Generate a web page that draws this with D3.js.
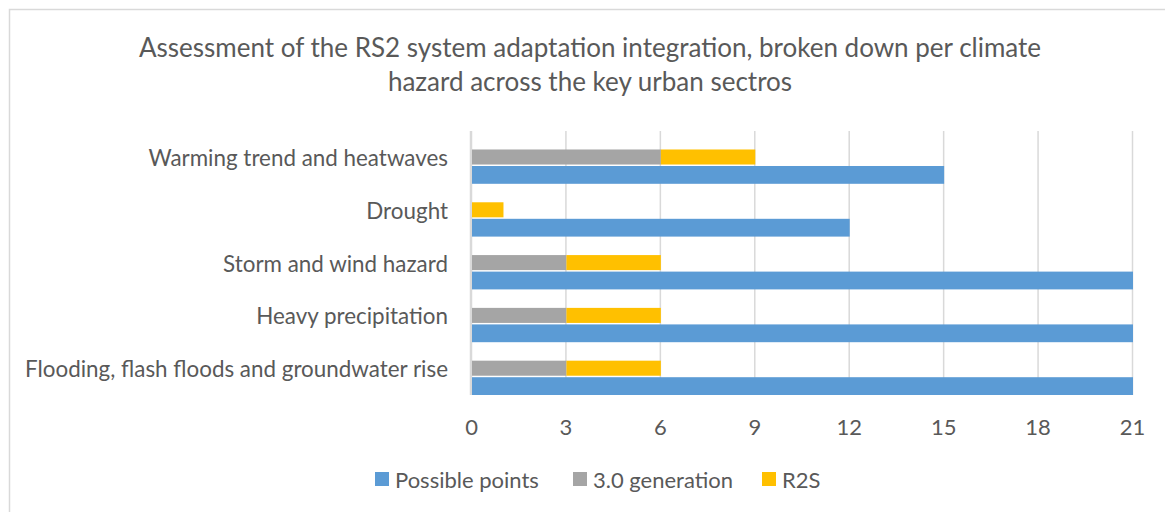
<!DOCTYPE html>
<html>
<head>
<meta charset="utf-8">
<script src="https://cdn.jsdelivr.net/npm/d3@7"></script>
<style>
  html, body { margin: 0; padding: 0; background: #fff; }
  svg { display: block; }
  text { font-family: Lato, "Open Sans", sans-serif; fill: #595959; }
</style>
</head>
<body>
<svg id="chart" width="1165" height="512"></svg>
<script>
// Climate hazards, listed top to bottom
const hazards = [
  "Warming trend and heatwaves",
  "Drought",
  "Storm and wind hazard",
  "Heavy precipitation",
  "Flooding, flash floods and groundwater rise"
];
// Series values per hazard
const possiblePoints = [15, 12, 21, 21, 21];
const generation30   = [6, 0, 3, 3, 3];
const r2s            = [3, 1, 3, 3, 3];
const xTicks = [0, 3, 6, 9, 12, 15, 18, 21];
const seriesNames = ["Possible points", "3.0 generation", "R2S"];
const titleLines = [
  "Assessment of the RS2 system adaptation integration, broken down per climate",
  "hazard across the key urban sectros"
];

const colors = { possible: "#5b9bd5", gen: "#a5a5a5", r2s: "#ffc000" };

const svg = d3.select("#chart");
const W = 1165, H = 512;

// chart frame
svg.append("rect")
  .attr("x", 9.5).attr("y", 9.5)
  .attr("width", W + 20).attr("height", H + 20)
  .attr("fill", "#fff").attr("stroke", "#d9d9d9").attr("stroke-width", 1.5);

const plot = { left: 471, right: 1132, top: 131, bottom: 395 };

const x = d3.scaleLinear().domain([0, 21]).range([plot.left, plot.right]);
const y = d3.scaleBand().domain(hazards).range([plot.top, plot.bottom]).paddingInner(0).paddingOuter(0);
const bw = y.bandwidth();

// title
const title = svg.append("text")
  .attr("text-anchor", "middle")
  .style("font-size", "26px");
titleLines.forEach((t, i) => {
  title.append("tspan").attr("x", 590).attr("y", 57 + i * 34).text(t);
});

// vertical gridlines
const grid = svg.append("g");
grid.selectAll("line").data(xTicks.slice(1)).join("line")
  .attr("x1", d => x(d) + 0.5).attr("x2", d => x(d) + 0.5)
  .attr("y1", plot.top).attr("y2", plot.bottom)
  .attr("stroke", "#d9d9d9").attr("stroke-width", 1.5);

// category axis line
svg.append("line")
  .attr("x1", x(0)).attr("x2", x(0))
  .attr("y1", plot.top).attr("y2", plot.bottom)
  .attr("stroke", "#d9d9d9").attr("stroke-width", 2.5);

const rows = hazards.map((h, i) => ({
  hazard: h, possible: possiblePoints[i], gen: generation30[i], r2s: r2s[i]
}));

// stacked bars (3.0 generation + R2S)
const stackTop = 0.35, stackBot = 0.635;
const stacked = d3.stack().keys(["gen", "r2s"])(rows);
const bars = svg.append("g");
stacked.forEach(layer => {
  bars.append("g").attr("fill", colors[layer.key])
    .selectAll("rect").data(layer.filter(d => d[1] - d[0] > 0)).join("rect")
    .attr("x", d => x(d[0]) + 1)
    .attr("width", d => x(d[1]) - x(d[0]))
    .attr("y", d => y(d.data.hazard) + bw * stackTop)
    .attr("height", bw * (stackBot - stackTop));
});

// possible points bars
const blueTop = 0.663, blueBot = 1.0;
bars.append("g").attr("fill", colors.possible)
  .selectAll("rect").data(rows).join("rect")
  .attr("x", x(0) + 1)
  .attr("width", d => x(d.possible) - x(0))
  .attr("y", d => y(d.hazard) + bw * blueTop)
  .attr("height", bw * (blueBot - blueTop));

// category labels
svg.append("g").selectAll("text").data(hazards).join("text")
  .attr("x", 448)
  .attr("y", d => y(d) + bw / 2)
  .attr("text-anchor", "end")
  .attr("dominant-baseline", "central")
  .style("font-size", "22.4px")
  .text(d => d);

// value axis
const xAxis = d3.axisBottom(x).tickValues(xTicks).tickSize(0).tickPadding(0);
const ax = svg.append("g").attr("transform", `translate(0, 426)`).call(xAxis);
ax.select(".domain").remove();
ax.selectAll("text")
  .attr("dy", null).attr("y", 0)
  .attr("dominant-baseline", "central")
  .style("font-size", "22px")
  .attr("fill", "#595959");
ax.attr("font-family", null).attr("font-size", null);

// legend
const legendItems = [
  { name: seriesNames[0], color: colors.possible, x: 375 },
  { name: seriesNames[1], color: colors.gen, x: 573 },
  { name: seriesNames[2], color: colors.r2s, x: 762 }
];
const lg = svg.append("g");
legendItems.forEach(it => {
  lg.append("rect").attr("x", it.x).attr("y", 472).attr("width", 14).attr("height", 14).attr("fill", it.color);
  lg.append("text").attr("x", it.x + 20).attr("y", 479)
    .attr("dominant-baseline", "central")
    .style("font-size", "22px").text(it.name);
});
</script>
</body>
</html>
